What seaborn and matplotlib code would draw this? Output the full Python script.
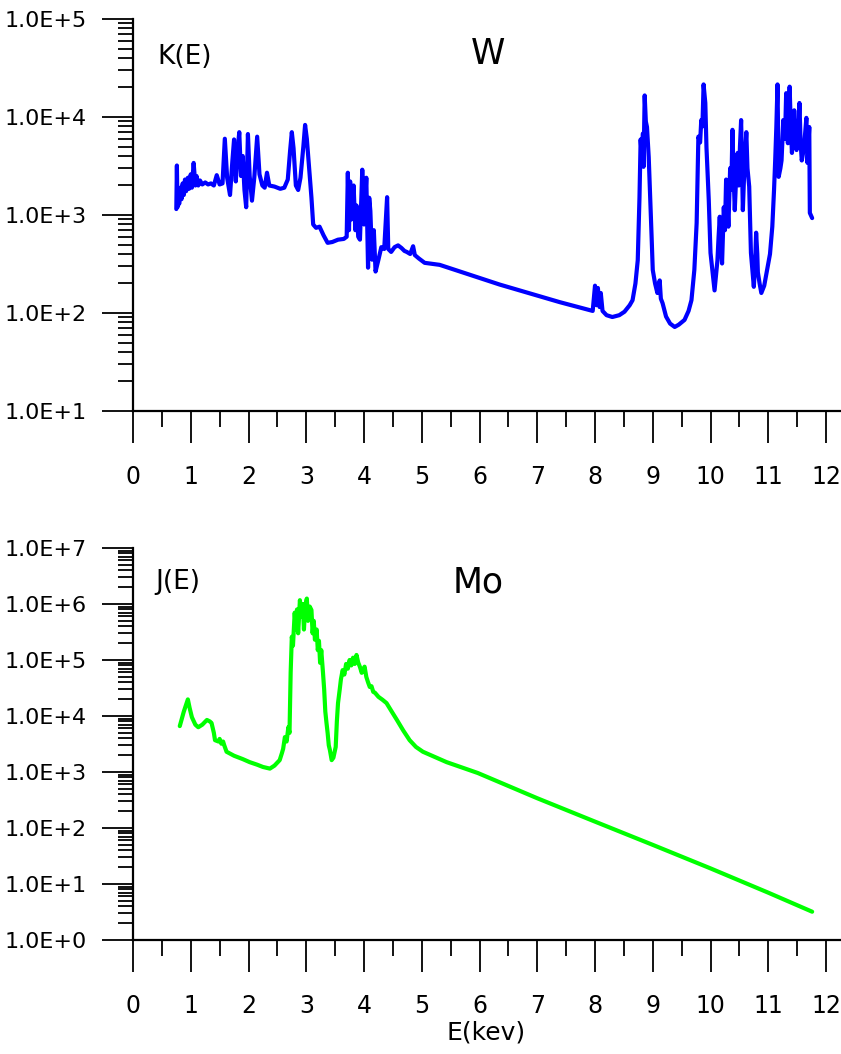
import matplotlib
matplotlib.use("Agg")
import matplotlib.pyplot as plt
import seaborn as sns
import pandas as pd
from matplotlib.ticker import LogLocator, MultipleLocator, FuncFormatter, NullFormatter

# ---------------- data ----------------
w_energy = [0.75, 0.76, 0.77, 0.79, 0.80, 0.82, 0.84, 0.86, 0.88, 0.90, 0.92, 0.95, 0.97, 1.00,
            1.02, 1.05, 1.08, 1.10, 1.13, 1.16, 1.20, 1.25, 1.30, 1.35, 1.40, 1.45, 1.50, 1.55,
            1.59, 1.63, 1.68, 1.72, 1.75, 1.78, 1.81, 1.84, 1.87, 1.90, 1.93, 1.96, 1.99, 2.02,
            2.06, 2.10, 2.15, 2.19, 2.24, 2.28, 2.32, 2.36, 2.45, 2.55, 2.62, 2.68, 2.72, 2.75,
            2.78, 2.82, 2.86, 2.90, 2.95, 2.98, 3.01, 3.05, 3.09, 3.12, 3.17, 3.23, 3.30, 3.37,
            3.45, 3.55, 3.65, 3.70, 3.72, 3.74, 3.76, 3.78, 3.82, 3.85, 3.87, 3.90, 3.93, 3.97,
            4.00, 4.04, 4.07, 4.09, 4.11, 4.14, 4.17, 4.20, 4.25, 4.30, 4.35, 4.40, 4.42, 4.47,
            4.53, 4.59, 4.65, 4.70, 4.74, 4.80, 4.85, 4.88, 4.95, 5.05, 5.31, 6.35, 7.39, 7.96,
            8.00, 8.03, 8.05, 8.08, 8.10, 8.13, 8.20, 8.30, 8.42, 8.51, 8.60, 8.65, 8.70, 8.74,
            8.77, 8.79, 8.81, 8.83, 8.84, 8.86, 8.88, 8.90, 8.93, 8.96, 8.98, 9.00, 9.04, 9.08,
            9.12, 9.14, 9.17, 9.23, 9.30, 9.38, 9.45, 9.55, 9.62, 9.67, 9.72, 9.76, 9.79, 9.82,
            9.84, 9.86, 9.88, 9.91, 9.93, 9.97, 10.00, 10.04, 10.07, 10.10, 10.12, 10.14, 10.16,
            10.18, 10.20, 10.23, 10.25, 10.27, 10.29, 10.31, 10.34, 10.36, 10.38, 10.40, 10.42,
            10.45, 10.47, 10.49, 10.51, 10.53, 10.56, 10.59, 10.62, 10.64, 10.67, 10.70, 10.75,
            10.77, 10.79, 10.81, 10.82, 10.85, 10.88, 10.93, 10.99, 11.03, 11.07, 11.10, 11.12,
            11.14, 11.16, 11.18, 11.21, 11.23, 11.26, 11.29, 11.31, 11.34, 11.37, 11.39, 11.41,
            11.43, 11.45, 11.47, 11.49, 11.52, 11.54, 11.56, 11.58, 11.60, 11.63, 11.66, 11.68,
            11.70, 11.71, 11.72, 11.76]
w_k = [1150, 3200, 1200, 1500, 1300, 1900, 1450, 2100, 1600, 2300, 1750, 2400, 1850, 2600,
       1900, 3400, 2000, 2500, 2000, 2250, 2050, 2150, 2050, 2100, 2000, 2550, 2050, 2100,
       6000, 2400, 1600, 3500, 5900, 2200, 4500, 7000, 2500, 4000, 1800, 1200, 6700, 2500,
       1400, 2400, 6300, 2600, 2000, 1900, 2700, 2000, 1950, 1850, 1900, 2300, 4500, 7000,
       4800, 2000, 1800, 2400, 5000, 8300, 6000, 3000, 1500, 800, 740, 760, 620, 520,
       530, 560, 570, 600, 2700, 700, 2200, 900, 2000, 700, 1250, 600, 560, 2900,
       800, 2400, 290, 1500, 1100, 350, 700, 265, 350, 470, 450, 1520, 450, 420,
       470, 490, 460, 430, 420, 400, 480, 390, 360, 325, 310, 195, 129, 105,
       190, 120, 180, 115, 160, 105, 95, 91, 95, 103, 120, 135, 200, 345,
       1500, 5900, 4000, 6800, 3100, 16600, 9000, 7900, 3900, 1320, 600, 275, 200, 160,
       215, 140, 126, 92, 78, 72, 76, 85, 105, 135, 275, 830, 6300, 5500,
       9300, 8000, 21500, 13900, 4900, 1410, 410, 250, 170, 260, 345, 600, 960,
       500, 320, 1200, 700, 2300, 1400, 760, 3000, 1800, 7400, 2500, 1120,
       3000, 4300, 2000, 5000, 9300, 1120, 3500, 7000, 3000, 1950, 410, 185,
       300, 660, 400, 260, 200, 160, 190, 295, 400, 760, 1800, 3600,
       7900, 21500, 2450, 3000, 3600, 9300, 6000, 17500, 5400, 20400, 8000, 4300,
       6500, 11700, 6000, 4600, 7000, 13900, 5500, 3600, 4200, 5900, 9800, 3400,
       6000, 7900, 1050, 930]

mo_energy = [0.81, 0.88, 0.95, 0.98, 1.02, 1.08, 1.13, 1.20, 1.28, 1.33, 1.36, 1.40, 1.42, 1.48,
             1.50, 1.53, 1.56, 1.58, 1.62, 1.75, 1.90, 2.02, 2.15, 2.25, 2.37, 2.45, 2.54, 2.58,
             2.60, 2.63, 2.66, 2.69, 2.71, 2.73, 2.75, 2.77, 2.80, 2.82, 2.84, 2.86, 2.89, 2.92,
             2.94, 2.96, 2.98, 3.01, 3.03, 3.06, 3.09, 3.11, 3.13, 3.15, 3.18, 3.20, 3.22, 3.24,
             3.26, 3.29, 3.31, 3.33, 3.35, 3.37, 3.39, 3.41, 3.44, 3.47, 3.51, 3.53, 3.55, 3.58,
             3.60, 3.63, 3.66, 3.69, 3.72, 3.75, 3.78, 3.81, 3.84, 3.87, 3.90, 3.93, 3.96, 3.99,
             4.01, 4.04, 4.07, 4.10, 4.13, 4.16, 4.19, 4.25, 4.32, 4.39, 4.48, 4.57, 4.68, 4.79,
             4.90, 5.02, 5.43, 5.97, 7.00, 8.00, 9.00, 10.00, 11.00, 11.76]
mo_j = [6600, 12000, 19800, 14000, 9500, 7000, 6300, 7000, 8500, 8000, 7500, 5000, 3700, 3500,
        3900, 3200, 3500, 3000, 2300, 1950, 1700, 1500, 1350, 1230, 1150, 1300, 1630, 2200,
        2600, 4200, 3500, 6300, 5000, 60000, 260000, 180000, 700000, 350000, 800000, 300000, 1170000, 600000,
        1000000, 350000, 900000, 1250000, 500000, 900000, 780000, 300000, 500000, 230000, 350000, 150000, 220000, 89000,
        150000, 59000, 30000, 12000, 7600, 5000, 3000, 2450, 1630, 1800, 2800, 8000, 17000, 30000,
        45000, 66000, 55000, 85000, 70000, 100000, 80000, 110000, 85000, 123000, 90000, 75000, 59000, 70000,
        76000, 50000, 40000, 33000, 34000, 27000, 26000, 22000, 19500, 17000, 12000, 8500, 5500, 3700,
        2800, 2300, 1500, 960, 340, 130, 50, 19, 7, 3.2]

x_ticks = list(range(0, 13))
top_yticks = [1e1, 1e2, 1e3, 1e4, 1e5]
bot_yticks = [1e0, 1e1, 1e2, 1e3, 1e4, 1e5, 1e6, 1e7]

# ---------------- figure ----------------
sns.set_style("white")
plt.rcParams['font.family'] = ['DejaVu Sans']
plt.rcParams['text.color'] = 'black'
plt.rcParams['xtick.color'] = 'black'
plt.rcParams['ytick.color'] = 'black'
plt.rcParams['axes.labelcolor'] = 'black'

W, H = 841, 1054
fig = plt.figure(figsize=(W / 100, H / 100), dpi=100)
left_px, right_px = 133, 840
ax1 = fig.add_axes([left_px / W, (H - 411) / H, (right_px - left_px) / W, (411 - 19) / H])
ax2 = fig.add_axes([left_px / W, (H - 940) / H, (right_px - left_px) / W, (940 - 548) / H])

df_w = pd.DataFrame({"E": w_energy, "K": w_k})
df_mo = pd.DataFrame({"E": mo_energy, "J": mo_j})

sns.lineplot(data=df_w, x="E", y="K", ax=ax1, color="#0000ff", linewidth=3.0,
             sort=False, estimator=None)
sns.lineplot(data=df_mo, x="E", y="J", ax=ax2, color="#00ff00", linewidth=3.0,
             sort=False, estimator=None)

xmax = 12 + (right_px - 826) / 57.8


def sci_fmt(v, pos):
    import math
    e = int(round(math.log10(v)))
    return f"1.0E+{e}"


for ax, yt in ((ax1, top_yticks), (ax2, bot_yticks)):
    ax.set_yscale("log")
    ax.set_ylim(yt[0], yt[-1])
    ax.set_xlim(0, xmax)
    ax.set_xticks(x_ticks)
    ax.set_xticklabels([str(t) for t in x_ticks])
    ax.xaxis.set_minor_locator(MultipleLocator(0.5))
    ax.set_yticks(yt)
    ax.yaxis.set_major_formatter(FuncFormatter(sci_fmt))
    ax.yaxis.set_minor_locator(LogLocator(base=10, subs=range(2, 10), numticks=50))
    ax.yaxis.set_minor_formatter(NullFormatter())
    for s in ("top", "right"):
        ax.spines[s].set_visible(False)
    for s in ("left", "bottom"):
        ax.spines[s].set_linewidth(1.6)
        ax.spines[s].set_color("black")
    ax.tick_params(axis="y", which="major", direction="out", length=22, width=1.3,
                   labelsize=16, pad=11, left=True, color="black", labelcolor="black")
    ax.tick_params(axis="y", which="minor", direction="out", length=11, width=1.3,
                   left=True, color="black")
    ax.tick_params(axis="x", which="major", direction="out", length=23, width=1.3,
                   labelsize=17, pad=16, bottom=True, color="black", labelcolor="black")
    ax.tick_params(axis="x", which="minor", direction="out", length=11.5, width=1.3,
                   bottom=True, color="black")
    ax.set_ylabel("")
    ax.set_xlabel("")
    ax.patch.set_alpha(0)

ax1.text(0.42, 10 ** 4.61, "K(E)", fontsize=19, ha="left", va="center", color="black")
ax1.text(6.14, 10 ** 4.64, "W", fontsize=25, ha="center", va="center", color="black")
ax2.text(0.38, 10 ** 6.39, "J(E)", fontsize=19, ha="left", va="center", color="black")
ax2.text(5.97, 10 ** 6.39, "Mo", fontsize=25, ha="center", va="center", color="black")

ax2.set_xlabel("E(kev)", fontsize=18, labelpad=2, color="black")

fig.savefig("out.png", dpi=100, facecolor="white")
